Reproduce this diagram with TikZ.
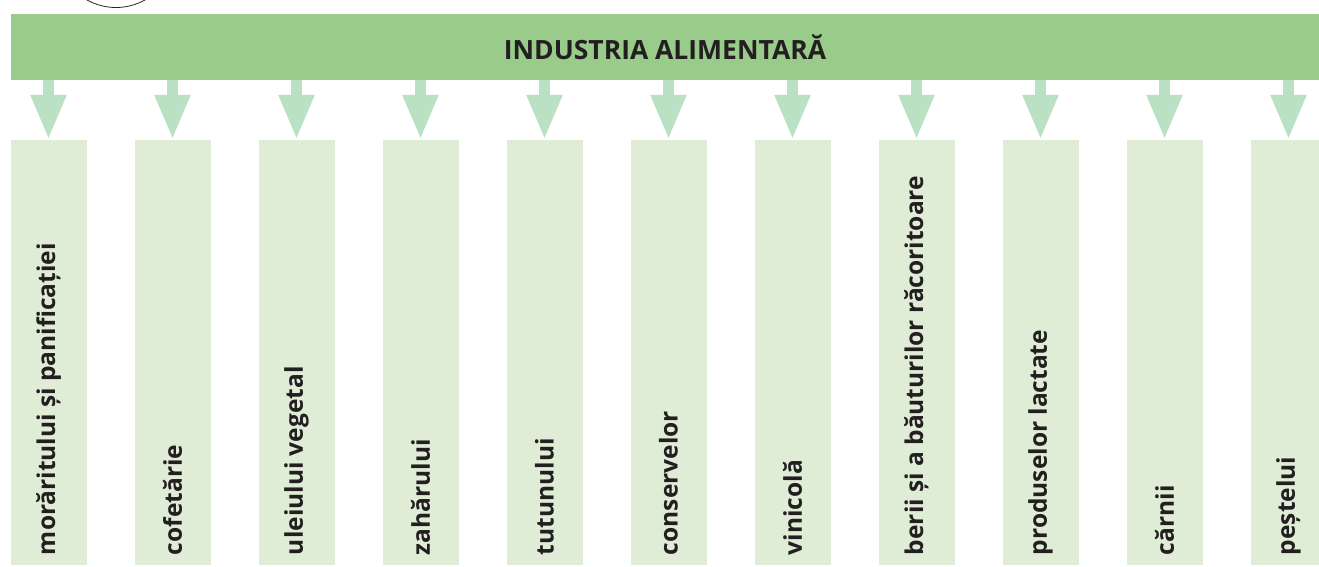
\documentclass[tikz,border=0pt]{standalone}
\usepackage{fontspec}
\setmainfont{Open Sans}
\usetikzlibrary{arrows.meta}
\definecolor{bargreen}{RGB}{153,204,138}
\definecolor{arrowgreen}{RGB}{187,225,196}
\definecolor{colgreen}{RGB}{223,237,214}
\definecolor{textdark}{RGB}{35,31,32}
\tikzset{
  titlebar/.style={fill=bargreen, draw=none, minimum width=1308pt, minimum height=66pt, inner sep=0pt,
    text=textdark, font=\fontsize{26.5}{30}\selectfont\bfseries},
  colbox/.style={fill=colgreen, draw=none, minimum width=76pt, minimum height=425pt, inner sep=0pt},
  coltext/.style={rotate=90, anchor=west, inner sep=0pt, text=textdark,
    font=\fontsize{24.5}{29}\selectfont\bfseries},
  downarrow/.style={draw=arrowgreen, line width=11pt, -{Triangle[width=33pt,length=45pt]}},
  rim/.style={draw=black!85, line width=0.8pt}
}
\begin{document}
\begin{tikzpicture}[x=1pt,y=-1pt]
\useasboundingbox (0,0) rectangle (1319,566);
\clip (0,0) rectangle (1319,566);
\draw[rim] (116,-52) circle (59.5);
\node[titlebar] (title) at (665,47) {INDUSTRIA ALIMENTARĂ};
\foreach \i/\t in {0/morăritului și panificației, 1/cofetărie, 2/uleiului vegetal, 3/zahărului,
  4/tutunului, 5/conservelor, 6/vinicolă, 7/berii și a băuturilor răcoritoare,
  8/produselor lactate, 9/cărnii, 10/peștelui} {
  \node[colbox] (c\i) at (48.5+124*\i, 352.5) {};
  \node[coltext] (t\i) at ([yshift=10pt]c\i.south) {\t};
  \draw[downarrow] (title.south -| c\i.north) -- (c\i.north);
}
\end{tikzpicture}
\end{document}
